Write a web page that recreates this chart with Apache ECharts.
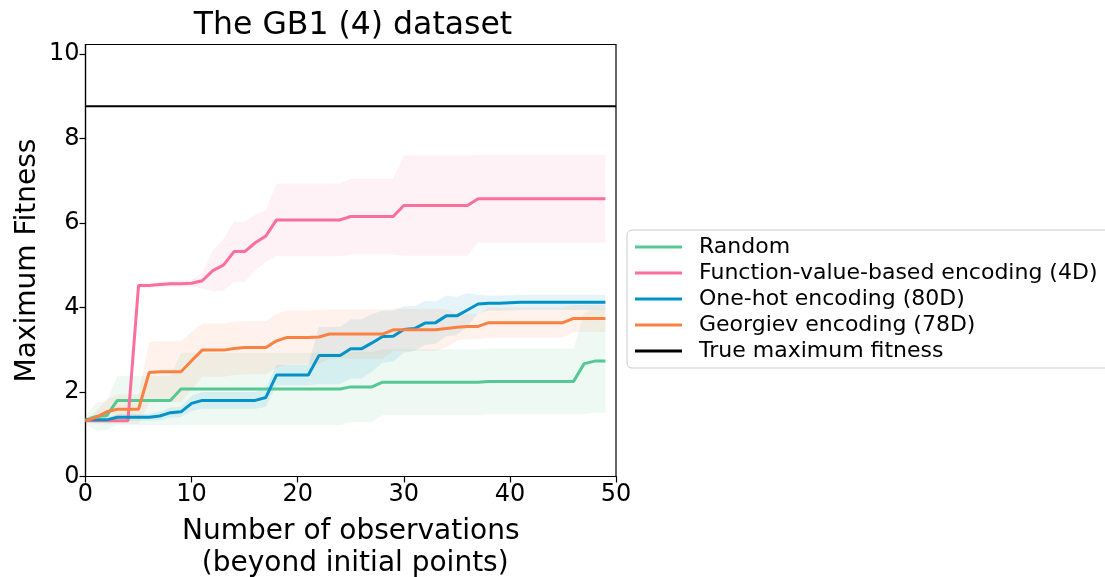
<!DOCTYPE html>
<html>
<head>
<meta charset="utf-8">
<script src="https://cdn.jsdelivr.net/npm/echarts@6/dist/echarts.min.js"></script>
<style>
html, body { margin: 0; padding: 0; background: #fff; }
#chart { width: 1105px; height: 577px; }
</style>
</head>
<body>
<div id="chart"></div>
<script>
// x: number of observations beyond initial points
const obs = [0,1,2,3,4,5,6,7,8,9,10,11,12,13,14,15,16,17,18,19,20,21,22,23,24,
             25,26,27,28,29,30,31,32,33,34,35,36,37,38,39,40,41,42,43,44,45,46,47,48,49];

// Random
const randomMean = [1.33,1.42,1.44,1.80,1.80,1.80,1.80,1.80,1.80,
  2.07,2.07,2.07,2.07,2.07,2.07,2.07,2.07,2.07,2.07,2.07,2.07,2.07,2.07,2.07,2.07,
  2.12,2.12,2.12,
  2.23,2.23,2.23,2.23,2.23,2.23,2.23,2.23,2.23,2.23,
  2.25,2.25,2.25,2.25,2.25,2.25,2.25,2.25,2.25,
  2.67,2.73,2.73];
const randomStd = [0.10,0.33,0.34,0.58,0.58,0.58,0.58,0.58,0.58,
  0.86,0.86,0.86,0.86,0.86,0.86,0.86,0.86,0.86,0.86,0.86,0.86,0.86,0.86,0.86,0.86,
  0.83,0.83,0.83,
  0.78,0.78,0.78,0.78,0.78,0.78,0.78,0.78,0.78,0.78,
  0.78,0.78,0.78,0.78,0.78,0.78,0.78,0.78,0.78,
  1.20,1.22,1.22];

// Function-value-based encoding (4D)
const fvMean = [1.32,1.32,1.32,1.32,1.32,
  4.52,4.52,4.54,4.56,4.56,4.57,4.63,4.87,5.00,5.32,5.32,5.53,5.69,
  6.07,6.07,6.07,6.07,6.07,6.07,6.07,
  6.15,6.15,6.15,6.15,6.15,
  6.41,6.41,6.41,6.41,6.41,6.41,6.41,
  6.57,6.57,6.57,6.57,6.57,6.57,6.57,6.57,6.57,6.57,6.57,6.57,6.57];
const fvStd = [0.02,0.02,0.02,0.02,0.02,
  0.05,0.05,0.06,0.07,0.08,0.08,0.18,0.49,0.62,0.71,0.71,0.66,0.61,
  0.86,0.86,0.86,0.86,0.86,0.86,0.86,
  0.90,0.90,0.90,0.90,0.90,
  1.19,1.19,1.19,1.19,1.19,1.19,1.19,
  1.04,1.04,1.04,1.04,1.04,1.04,1.04,1.04,1.04,1.04,1.04,1.04,1.04];

// One-hot encoding (80D)
const ohMean = [1.34,1.34,1.34,1.40,1.40,1.40,1.40,1.43,1.51,1.53,1.73,
  1.80,1.80,1.80,1.80,1.80,1.80,1.87,
  2.40,2.40,2.40,2.40,
  2.86,2.86,2.86,
  3.02,3.02,3.16,3.31,3.32,3.48,3.50,3.63,3.64,3.80,3.80,3.94,4.08,4.10,4.10,4.11,
  4.12,4.12,4.12,4.12,4.12,4.12,4.12,4.12,4.12];
const ohStd = [0.03,0.03,0.03,0.08,0.08,0.08,0.08,0.10,0.12,0.12,0.18,
  0.20,0.20,0.20,0.20,0.20,0.20,0.22,
  0.24,0.24,0.24,0.24,
  0.68,0.68,0.68,
  0.70,0.70,0.68,0.62,0.60,0.55,0.53,0.52,0.50,0.48,0.45,0.40,0.22,
  0.18,0.18,0.18,0.18,0.18,0.18,0.18,0.18,0.18,0.18,0.18,0.18];

// Georgiev encoding (78D)
const geMean = [1.32,1.40,1.53,1.59,1.59,1.59,2.46,2.48,2.48,2.48,2.74,
  2.99,2.99,2.99,3.03,3.05,3.05,3.05,3.21,3.29,3.29,3.29,3.30,
  3.37,3.37,3.37,3.37,3.37,3.37,
  3.47,3.47,3.47,3.47,3.47,
  3.50,3.53,3.55,3.55,
  3.64,3.64,3.64,3.64,3.64,3.64,3.64,3.64,
  3.74,3.74,3.74,3.74];
const geStd = [0.03,0.15,0.30,0.35,0.35,0.35,0.72,0.72,0.72,0.72,0.68,
  0.63,0.63,0.63,0.63,0.63,0.63,0.63,
  0.64,0.64,0.64,0.64,0.64,
  0.58,0.58,0.58,0.58,0.58,0.58,
  0.50,0.50,0.50,0.50,0.50,
  0.45,0.32,0.30,0.30,
  0.36,0.36,0.36,0.36,0.36,0.36,0.36,0.36,
  0.32,0.32,0.32,0.32];

const trueMax = 8.76;
const xTicks = [0, 10, 20, 30, 40, 50];
const yTicks = [0, 2, 4, 6, 8, 10];

const seriesInfo = [
  { name: 'Random', mean: randomMean, std: randomStd, color: '#55c894', fill: 'rgba(85,200,148,0.10)' },
  { name: 'Function-value-based encoding (4D)', mean: fvMean, std: fvStd, color: '#fb6f9b', fill: 'rgba(251,111,155,0.09)' },
  { name: 'One-hot encoding (80D)', mean: ohMean, std: ohStd, color: '#0392c8', fill: 'rgba(3,146,200,0.10)' },
  { name: 'Georgiev encoding (78D)', mean: geMean, std: geStd, color: '#fb8143', fill: 'rgba(251,129,67,0.10)' }
];

// band polygon (mean - std .. mean + std), drawn once through the axis scales
function bandRenderer(fill) {
  return function (params, api) {
    if (params.dataIndex !== 0) return null;
    const n = params.dataInsideLength;
    const up = [], lo = [];
    for (let i = 0; i < n; i++) {
      up.push(api.coord([api.value(0, i), api.value(2, i)]));
      lo.push(api.coord([api.value(0, i), api.value(1, i)]));
    }
    return {
      type: 'polygon',
      shape: { points: up.concat(lo.reverse()) },
      style: { fill: fill },
      silent: true
    };
  };
}

const series = [];
seriesInfo.forEach((s) => {
  series.push({
    name: s.name + ' band',
    type: 'custom',
    renderItem: bandRenderer(s.fill),
    data: obs.map((x, i) => [x, s.mean[i] - s.std[i], s.mean[i] + s.std[i]]),
    encode: { x: 0, y: [1, 2] },
    clip: true,
    silent: true,
    z: 1
  });
});
seriesInfo.forEach((s) => {
  series.push({
    name: s.name,
    type: 'line',
    data: obs.map((x, i) => [x, s.mean[i]]),
    symbol: 'none',
    color: s.color,
    lineStyle: { color: s.color, width: 3 },
    z: 3
  });
});
series.push({
  name: 'True maximum fitness',
  type: 'line',
  data: [[xTicks[0], trueMax], [xTicks[xTicks.length - 1], trueMax]],
  symbol: 'none',
  color: '#000',
  lineStyle: { color: '#000', width: 2 },
  z: 3
});

const chart = echarts.init(document.getElementById('chart'));
chart.setOption({
  animation: false,
  backgroundColor: '#fff',
  textStyle: { fontFamily: 'DejaVu Sans' },
  title: {
    text: 'The GB1 (4) dataset',
    left: 348,
    textAlign: 'center',
    top: 5,
    textStyle: { fontSize: 31.5, fontWeight: 'normal', color: '#000', fontFamily: 'DejaVu Sans' }
  },
  grid: {
    left: 85.5,
    right: 489,
    top: 44.5,
    bottom: 100.5,
    outerBoundsMode: 'none',
    containLabel: false,
    show: true,
    borderColor: '#000',
    borderWidth: 1.2,
    backgroundColor: 'transparent'
  },
  legend: {
    orient: 'vertical',
    left: 627,
    top: 230,
    padding: [6, 30, 6, 8],
    itemGap: 4,
    itemWidth: 47,
    itemHeight: 3,
    borderColor: '#cccccc',
    borderWidth: 1,
    borderRadius: 5,
    backgroundColor: 'rgba(255,255,255,0.8)',
    textStyle: { fontSize: 22, color: '#000', lineHeight: 22, padding: [0, 0, 0, 12], fontFamily: 'DejaVu Sans' },
    data: seriesInfo.map(s => ({ name: s.name, icon: 'rect' }))
      .concat([{ name: 'True maximum fitness', icon: 'rect' }])
  },
  xAxis: {
    type: 'value',
    min: 0,
    max: 50,
    interval: 10,
    name: 'Number of observations\n (beyond initial points)',
    nameLocation: 'middle',
    nameGap: 39,
    nameTextStyle: { fontSize: 28, color: '#000', lineHeight: 32, verticalAlign: 'top', fontFamily: 'DejaVu Sans' },
    axisLine: { show: true, lineStyle: { color: '#000', width: 1.2 } },
    axisTick: { show: true, length: 6, lineStyle: { color: '#000', width: 1.2 } },
    axisLabel: { fontSize: 24, color: '#000', margin: 6, fontFamily: 'DejaVu Sans' },
    splitLine: { show: false }
  },
  yAxis: {
    type: 'value',
    min: 0,
    max: 10.22,
    interval: 2,
    name: 'Maximum Fitness',
    nameLocation: 'middle',
    nameGap: 44,
    nameTextStyle: { fontSize: 28, color: '#000', fontFamily: 'DejaVu Sans' },
    axisLine: { show: true, lineStyle: { color: '#000', width: 1.2 } },
    axisTick: { show: true, length: 6, customValues: yTicks, lineStyle: { color: '#000', width: 1.2 } },
    axisLabel: { fontSize: 24, color: '#000', margin: 6, customValues: yTicks, fontFamily: 'DejaVu Sans' },
    splitLine: { show: false }
  },
  series: series
});
</script>
</body>
</html>
